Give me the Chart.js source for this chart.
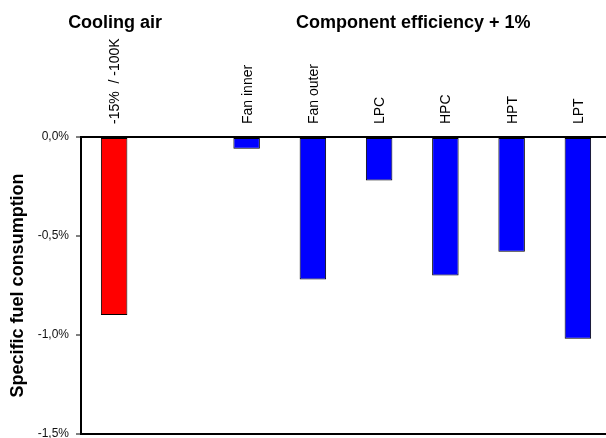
<!DOCTYPE html>
<html>
<head>
<meta charset="utf-8">
<script src="https://cdn.jsdelivr.net/npm/chart.js@4/dist/chart.umd.min.js"></script>
<style>
  html, body { margin: 0; padding: 0; background: #fff; overflow: hidden; }
  #wrap { width: 612px; height: 448px; position: relative; }
</style>
</head>
<body>
<div id="wrap"><canvas id="chart"></canvas></div>
<script>
"use strict";

// ── Data ───────────────────────────────────────────────────────────── //
const categories = ["-15%  / -100K", "", "Fan inner", "Fan outer", "LPC", "HPC", "HPT", "LPT"];
const sfcChange  = [-0.90, null, -0.06, -0.72, -0.22, -0.70, -0.58, -1.02];   // %
const barGroup   = ["cooling", null, "comp", "comp", "comp", "comp", "comp", "comp"];
const yTicks     = [0, -0.5, -1.0, -1.5];

const groupTitles = [
  { text: "Cooling air",               from: 0, to: 0 },
  { text: "Component efficiency + 1%", from: 2, to: 7 },
];

const groupColors = { cooling: "#FF0000", comp: "#0000FF" };
const FONT = "'Liberation Sans', Arial, sans-serif";

// ── Group titles above the category labels ─────────────────────────── //
const groupTitlePlugin = {
  id: "groupTitles",
  afterDraw(chart) {
    const { ctx, scales: { x } } = chart;
    ctx.save();
    ctx.font = `bold 18px ${FONT}`;
    ctx.fillStyle = "#000";
    ctx.textAlign = "center";
    ctx.textBaseline = "alphabetic";
    groupTitles.forEach(g => {
      const cx = (x.getPixelForValue(g.from) + x.getPixelForValue(g.to)) / 2;
      ctx.fillText(g.text, cx + 1, 28);
    });
    ctx.restore();
  },
};

// ── Chart ──────────────────────────────────────────────────────────── //
const ctx = document.getElementById("chart").getContext("2d");
new Chart(ctx, {
  type: "bar",
  data: {
    labels: categories,
    datasets: [{
      data: sfcChange,
      backgroundColor: barGroup.map(g => groupColors[g] || "transparent"),
      borderColor: "#000",
      borderWidth: 1,
      borderSkipped: false,
      barPercentage: 0.4,
      categoryPercentage: 1.0,
    }],
  },
  options: {
    responsive: true,
    maintainAspectRatio: false,
    animation: false,
    layout: { padding: { top: 0, right: 1, bottom: 5, left: 0 } },
    plugins: {
      legend: { display: false },
      tooltip: { enabled: false },
    },
    scales: {
      x: {
        position: "top",
        grid: { display: false, drawTicks: false },
        border: { display: true, color: "#000", width: 2 },
        ticks: {
          color: "#000",
          font: { family: FONT, size: 14 },
          minRotation: 90,
          maxRotation: 90,
          padding: 13,
          labelOffset: 18,
          autoSkip: false,
        },
        afterFit: s => { s.height = 137; },
      },
      y: {
        min: -1.5,
        max: 0,
        afterBuildTicks: s => { s.ticks = yTicks.map(v => ({ value: v })); },
        grid: {
          drawOnChartArea: true,
          color: c => (c.tick && c.tick.value === -1.5) ? "#000" : "transparent",
          lineWidth: 2,
          tickColor: "#000",
          tickLength: 5,
          tickWidth: 1,
        },
        border: { display: true, color: "#000", width: 2 },
        ticks: {
          color: "#111",
          font: { family: FONT, size: 12 },
          padding: 7,
          callback: v => v.toFixed(1).replace(".", ",") + "%",
        },
        title: {
          display: true,
          text: "Specific fuel consumption",
          color: "#000",
          font: { family: FONT, size: 18, weight: "bold" },
          padding: { top: 7, bottom: 0 },
        },
        afterFit: s => { s.width = 81; },
      },
    },
  },
  plugins: [groupTitlePlugin],
});
</script>
</body>
</html>
